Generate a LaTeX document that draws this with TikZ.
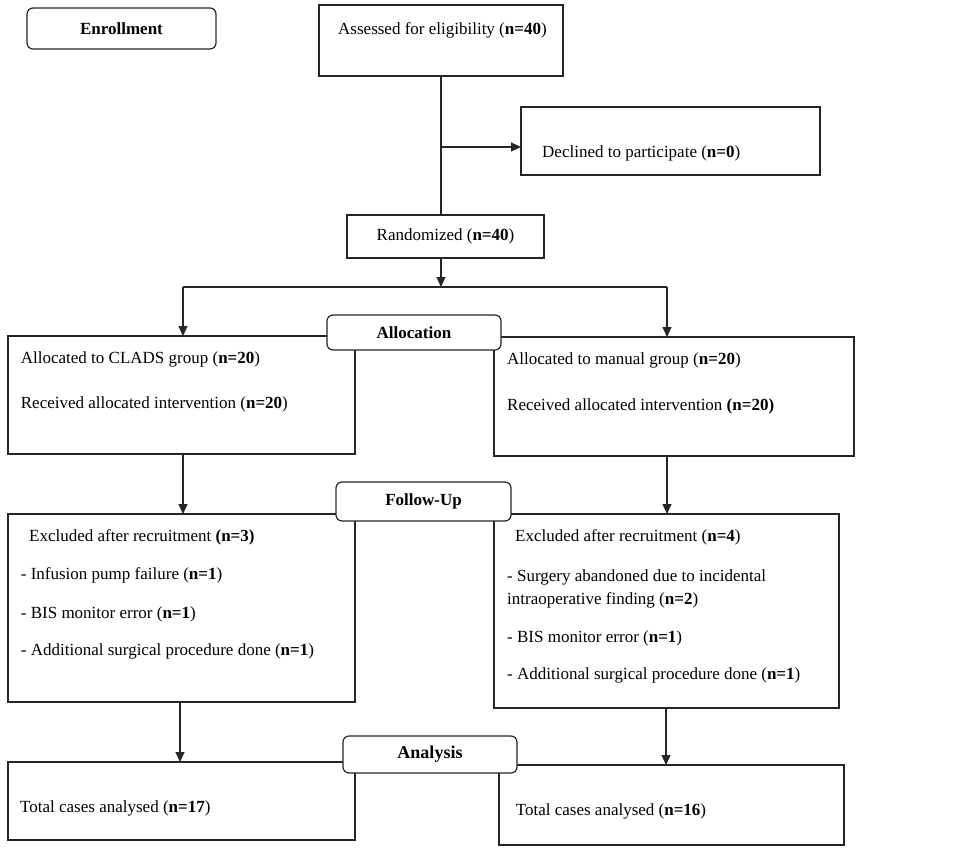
\documentclass[tikz,border=0pt]{standalone}
\usepackage{fontspec}
\setmainfont{Liberation Serif}
\usetikzlibrary{arrows.meta}
\begin{document}
\begin{tikzpicture}[x=1pt,y=-1pt,
 box/.style={draw=black!85, line width=1.2pt, inner sep=0pt, outer sep=0pt, font=\fontsize{17}{20}\selectfont},
 hdr/.style={draw=black!85, fill=white, rounded corners=6pt, line width=1.2pt, inner sep=0pt, outer sep=0pt, font=\bfseries\fontsize{17}{20}\selectfont},
 txt/.style={anchor=base west, inner sep=0pt, font=\fontsize{17}{20}\selectfont},
 arr/.style={draw=black!85, line width=1.2pt, -{Triangle[length=10pt,width=9pt]}},
 ln/.style={draw=black!85, line width=1.2pt}]
\useasboundingbox (0,0) rectangle (971,849);
% main boxes
\node[box, minimum width=244pt, minimum height=71pt] (assess) at (441,40.5) {};
\node[box, minimum width=299pt, minimum height=68pt] (decl) at (670.5,141) {};
\node[box, minimum width=197pt, minimum height=43pt] (rand) at (445.5,236.5) {Randomized (\textbf{n=40})};
\node[box, minimum width=347pt, minimum height=118pt] (L1) at (181.5,395) {};
\node[box, minimum width=360pt, minimum height=119pt] (R1) at (674,396.5) {};
\node[box, minimum width=347pt, minimum height=188pt] (L2) at (181.5,608) {};
\node[box, minimum width=345pt, minimum height=194pt] (R2) at (666.5,611) {};
\node[box, minimum width=347pt, minimum height=78pt] (L3) at (181.5,801) {};
\node[box, minimum width=345pt, minimum height=80pt] (R3) at (671.5,805) {};
% connectors
\draw[ln] (assess.south) -- (assess.south |- rand.north);
\coordinate (j1) at (441,147);
\draw[arr] (j1) -- (j1 -| decl.west);
\coordinate (split) at (441,287);
\draw[arr] (assess.south |- rand.south) -- (split);
\coordinate (sl) at (183,287);
\coordinate (sr) at (667,287);
\draw[ln] (sl) -- (sr);
\draw[arr] (sl) -- (sl |- L1.north);
\draw[arr] (sr) -- (sr |- R1.north);
\draw[arr] (sl |- L1.south) -- (sl |- L2.north);
\draw[arr] (sr |- R1.south) -- (sr |- R2.north);
\coordinate (xl) at (180,0);
\coordinate (xr) at (666,0);
\draw[arr] (xl |- L2.south) -- (xl |- L3.north);
\draw[arr] (xr |- R2.south) -- (xr |- R3.north);
% header boxes
\node[hdr, minimum width=189pt, minimum height=41pt] (enroll) at (121.5,28.5) {Enrollment};
\node[hdr, minimum width=174pt, minimum height=35pt] (alloc) at (414,332.5) {Allocation};
\node[hdr, minimum width=175pt, minimum height=39pt] (follow) at (423.5,501.5) {Follow-Up};
\node[hdr, minimum width=174pt, minimum height=37pt, font=\bfseries\fontsize{18}{21}\selectfont] (anal) at (430,754.5) {Analysis};
% texts
\node[txt] (tassess) at (338,34) {Assessed for eligibility (\textbf{n=40})};
\node[txt] (tdecl) at (542,157) {Declined to participate (\textbf{n=0})};
\node[txt] (tl1a) at (20.7,363) {Allocated to CLADS group (\textbf{n=20})};
\node[txt] (tl1b) at (20.7,408) {Received allocated intervention (\textbf{n=20})};
\node[txt] (tr1a) at (507,364) {Allocated to manual group (\textbf{n=20})};
\node[txt] (tr1b) at (507,410) {Received allocated intervention \textbf{(n=20)}};
\node[txt] (tl2a) at (29,541) {Excluded after recruitment \textbf{(n=3)}};
\node[txt] (tl2b) at (20.7,579) {- Infusion pump failure (\textbf{n=1})};
\node[txt] (tl2c) at (20.7,618) {- BIS monitor error (\textbf{n=1})};
\node[txt] (tl2d) at (20.7,655) {- Additional surgical procedure done (\textbf{n=1})};
\node[txt] (tr2a) at (515,541) {Excluded after recruitment (\textbf{n=4})};
\node[txt] (tr2b) at (507,581) {- Surgery abandoned due to incidental};
\node[txt] (tr2c) at (507,604) {intraoperative finding (\textbf{n=2})};
\node[txt] (tr2d) at (507,642) {- BIS monitor error (\textbf{n=1})};
\node[txt] (tr2e) at (507,679) {- Additional surgical procedure done (\textbf{n=1})};
\node[txt] (tl3) at (20,812) {Total cases analysed (\textbf{n=17})};
\node[txt] (tr3) at (515.7,815) {Total cases analysed (\textbf{n=16})};
\end{tikzpicture}
\end{document}
